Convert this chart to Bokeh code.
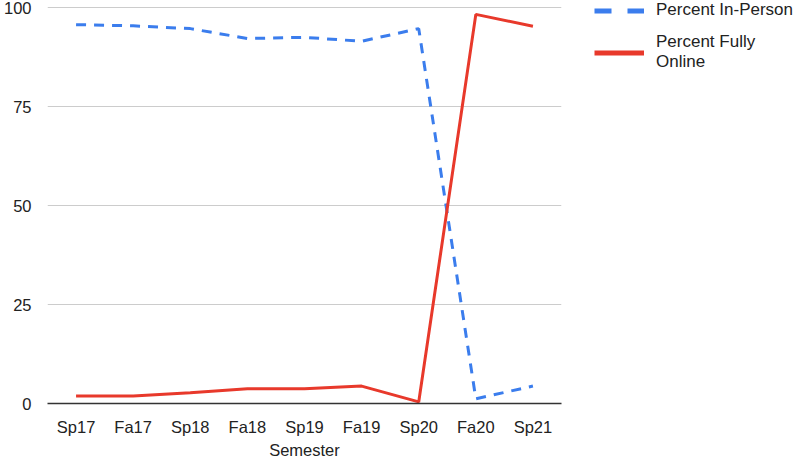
from bokeh.plotting import figure
from bokeh.models import ColumnDataSource, Legend, LegendItem, FixedTicker, Range1d
from bokeh.embed import file_html
from bokeh.resources import INLINE

semesters = ["Sp17", "Fa17", "Sp18", "Fa18", "Sp19", "Fa19", "Sp20", "Fa20", "Sp21"]
in_person = [95.7, 95.4, 94.7, 92.2, 92.5, 91.5, 94.7, 1.2, 4.4]
fully_online = [1.9, 1.9, 2.7, 3.7, 3.7, 4.4, 0.4, 98.3, 95.3]
y_ticks = [0, 25, 50, 75, 100]

BLUE = "#3b7ded"
RED = "#e8392b"
FONT = "Liberation Sans"

src = ColumnDataSource(dict(sem=semesters, inp=in_person, onl=fully_online))

p = figure(frame_width=514, frame_height=403, x_range=semesters,
           y_range=Range1d(0, 101.8),
           output_backend="svg", toolbar_location=None,
           min_border_left=37, min_border_right=0, min_border_top=0, min_border_bottom=48)
p.x_range.range_padding = 0
p.outline_line_color = None

r1 = p.line("sem", "inp", source=src, line_color=BLUE, line_width=3, line_dash="10 8")
r2 = p.line("sem", "onl", source=src, line_color=RED, line_width=3)

# legend-only renderers (thicker strokes, leading gap), placed below the visible range
d1 = p.line(x=[semesters[0], semesters[1]], y=[-500, -500], line_color=BLUE,
            line_width=5, line_dash="0 33 17 16 17 200")
d2 = p.line(x=[semesters[0], semesters[1]], y=[-500, -500], line_color=RED,
            line_width=5, line_dash="0 33 50 200")

p.yaxis.ticker = FixedTicker(ticks=y_ticks)
p.yaxis.axis_line_color = None
p.yaxis.major_tick_line_color = None
p.yaxis.minor_tick_line_color = None
p.yaxis.major_label_text_font = FONT
p.yaxis.major_label_text_font_size = "16.5px"
p.yaxis.major_label_text_color = "#222222"
p.yaxis.major_label_standoff = 10

p.xaxis.axis_line_color = "#333333"
p.xaxis.axis_line_width = 1.5
p.xaxis.major_tick_line_color = None
p.xaxis.minor_tick_line_color = None
p.xaxis.major_label_text_font = FONT
p.xaxis.major_label_text_font_size = "16.5px"
p.xaxis.major_label_text_color = "#222222"
p.xaxis.major_label_standoff = 8
p.xaxis.axis_label = "Semester"
p.xaxis.axis_label_text_font = FONT
p.xaxis.axis_label_text_font_style = "normal"
p.xaxis.axis_label_text_font_size = "16.5px"
p.xaxis.axis_label_text_color = "#222222"
p.xaxis.axis_label_standoff = 2

p.xgrid.grid_line_color = None
p.ygrid.grid_line_color = "#cccccc"
p.ygrid.grid_line_width = 1.2

legend = Legend(items=[LegendItem(label="Percent In-Person", renderers=[d1]),
                       LegendItem(label="Percent Fully\nOnline", renderers=[d2])],
                location="top_left", orientation="vertical",
                glyph_width=83, glyph_height=17, label_standoff=12,
                label_text_font=FONT, label_text_font_size="17px",
                label_text_line_height=0.85,
                label_text_color="#222222", label_height=17, spacing=12,
                padding=0, margin=0, border_line_color=None,
                background_fill_alpha=0)
p.add_layout(legend, "right")

open("out.html", "w").write(file_html(p, INLINE))
